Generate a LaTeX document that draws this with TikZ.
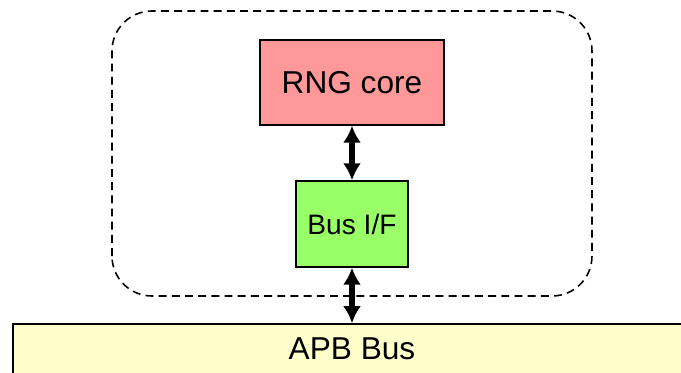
\documentclass[tikz,border=0pt]{standalone}
\usepackage{xcolor}
\usepackage{fontspec}
\setmainfont{Liberation Sans}
\usepackage{tikz}
\usetikzlibrary{arrows.meta}
\definecolor{RNGPink}{HTML}{FF9999}
\definecolor{BusGreen}{HTML}{99FF66}
\definecolor{APBYellow}{HTML}{FFFFCC}
\tikzset{
  blockbox/.style={draw=black,line width=0.7pt,inner sep=0pt},
  busarrow/.style={{Latex[length=0.34cm,width=0.36cm]}-{Latex[length=0.34cm,width=0.36cm]},line width=3pt}
}

\begin{document}
\begin{tikzpicture}[x=1cm,y=1cm]
\path[use as bounding box] (0,0) rectangle (13.62,7.44);
\clip (0,0) rectangle (13.62,7.44);
\draw[line width=0.9pt,dash pattern=on 4.5pt off 3pt,rounded corners=0.8cm] (2.24,1.52) rectangle (11.84,7.22);
\node[blockbox,fill=RNGPink,minimum width=3.68cm,minimum height=1.70cm,font=\fontsize{18}{21}\selectfont] (rng) at (7.04,5.79) {RNG core};
\node[blockbox,fill=BusGreen,minimum width=2.24cm,minimum height=1.72cm,font=\fontsize{16}{19}\selectfont] (busif) at (7.04,2.96) {Bus I/F};
\node[blockbox,line width=0.9pt,fill=APBYellow,minimum width=13.56cm,minimum height=1.0cm,font=\fontsize{18}{21}\selectfont] (apb) at (7.04,0.46) {APB Bus};
\draw[busarrow] (rng.south) -- (busif.north);
\draw[busarrow] (busif.south) -- (apb.north);
\end{tikzpicture}
\end{document}
